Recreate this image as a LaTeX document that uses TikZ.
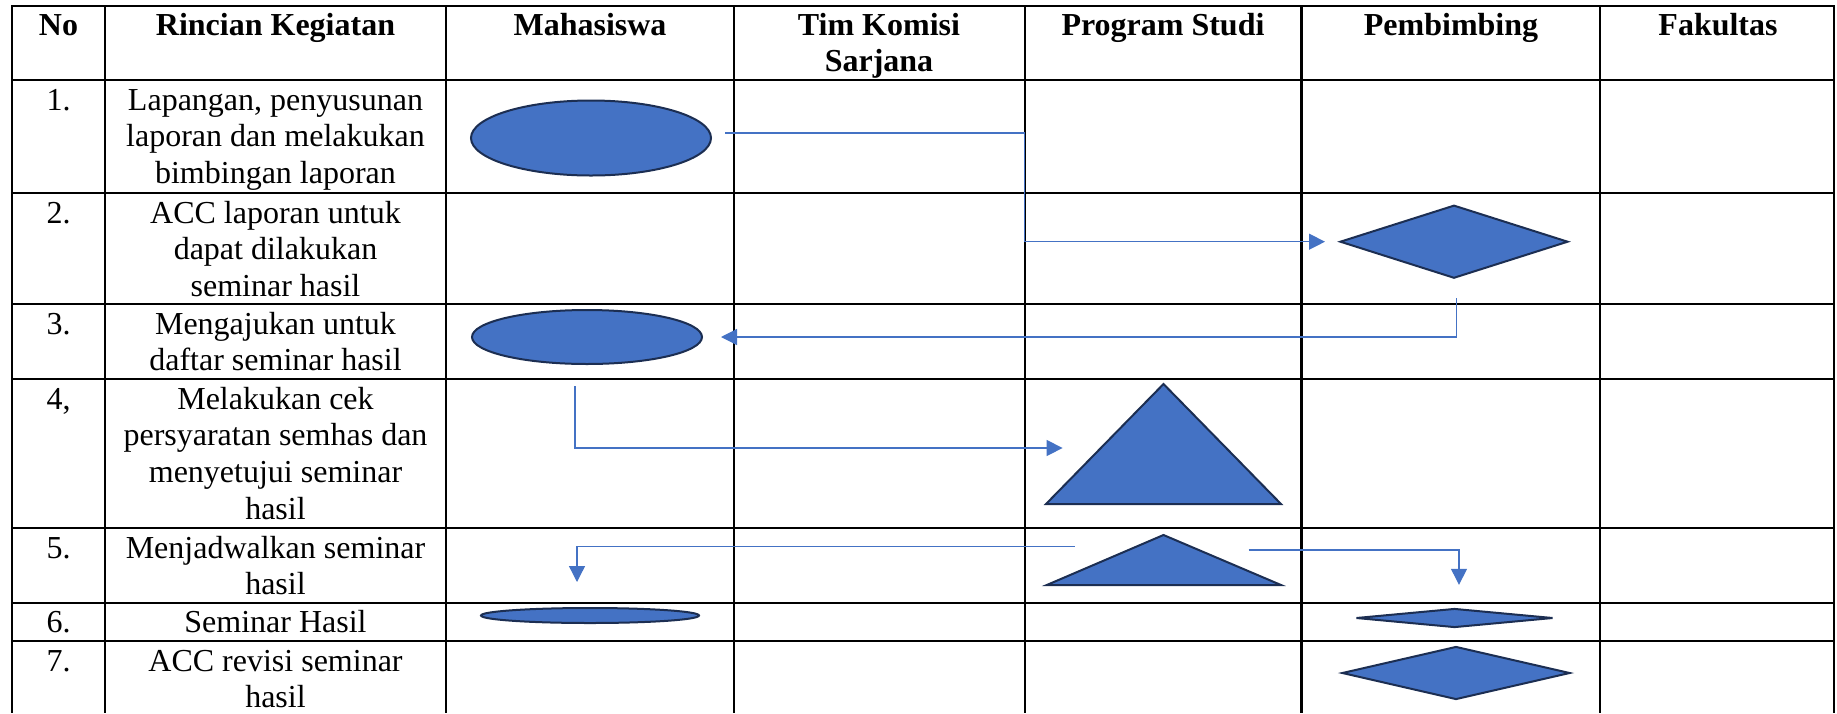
\documentclass[tikz,border=0pt]{standalone}
\usepackage{fontspec}
\setmainfont{Liberation Serif}
\usetikzlibrary{shapes.geometric,arrows.meta}
\definecolor{boxblue}{HTML}{4472C4}
\definecolor{edgeblue}{HTML}{1C2E52}
\tikzstyle{head_text}=[anchor=north,inner sep=0pt,align=center,font=\bfseries\fontsize{32}{36.8}\selectfont]
\tikzstyle{row_text}=[anchor=north,inner sep=0pt,align=center,font=\fontsize{32}{36.8}\selectfont]
\tikzstyle{oval_fill}=[ellipse,draw=edgeblue,fill=boxblue,line width=2pt,inner sep=0pt]
\tikzstyle{dia_fill}=[diamond,draw=edgeblue,fill=boxblue,line width=2pt,inner sep=0pt]
\tikzstyle{tri_fill}=[draw=edgeblue,fill=boxblue,line width=2pt,line join=miter]
\tikzstyle{flow_line}=[draw=boxblue,line width=1.3pt,-{Triangle[length=16pt,width=16pt]}]

\begin{document}
\begin{tikzpicture}[x=1pt,y=-1pt]
\useasboundingbox (0,0) rectangle (1837,713);
\foreach \x in {12,105,446,733.6,1024.7,1301.5,1600,1834} \draw[line width=2.2pt] (\x,6) -- (\x,713);
\foreach \y in {6,80,193,304,379,528,603,641} \draw[line width=2.2pt,line cap=rect] (12,\y) -- (1834,\y);
\coordinate (col4) at (1024.7,0);
% header
\node (h_no) at (58.5,9.2)[head_text] {\strut No};
\node (h_act) at (275.5,9.2)[head_text] {\strut Rincian Kegiatan};
\node (h_mhs) at (590,9.2)[head_text] {\strut Mahasiswa};
\node (h_tks) at (879,9.2)[head_text] {\strut Tim Komisi\\Sarjana};
\node (h_ps) at (1163,9.2)[head_text] {\strut Program Studi};
\node (h_pmb) at (1451,9.2)[head_text] {\strut Pembimbing};
\node (h_fak) at (1718,9.2)[head_text] {\strut Fakultas};
% rows
\node (no1) at (58.5,84.2)[row_text] {\strut 1.};
\node (act1) at (275.5,84.2)[row_text] {\strut Lapangan, penyusunan\\laporan dan melakukan\\bimbingan laporan};
\node (no2) at (58.5,197.2)[row_text] {\strut 2.};
\node (act2) at (275.5,197.2)[row_text] {\strut ACC laporan untuk\\dapat dilakukan\\seminar hasil};
\node (no3) at (58.5,308.2)[row_text] {\strut 3.};
\node (act3) at (275.5,308.2)[row_text] {\strut Mengajukan untuk\\daftar seminar hasil};
\node (no4) at (58.5,383.2)[row_text] {\strut 4,};
\node (act4) at (275.5,383.2)[row_text] {\strut Melakukan cek\\persyaratan semhas dan\\menyetujui seminar\\hasil};
\node (no5) at (58.5,532.2)[row_text] {\strut 5.};
\node (act5) at (275.5,532.2)[row_text] {\strut Menjadwalkan seminar\\hasil};
\node (no6) at (58.5,606.2)[row_text] {\strut 6.};
\node (act6) at (275.5,606.2)[row_text] {\strut Seminar Hasil};
\node (no7) at (58.5,645.2)[row_text] {\strut 7.};
\node (act7) at (275.5,645.2)[row_text] {\strut ACC revisi seminar\\hasil};
% symbols
\node (mhs1) at (591,138)[oval_fill,minimum width=240pt,minimum height=75pt] {};
\node (mhs3) at (587,337)[oval_fill,minimum width=230pt,minimum height=54pt] {};
\node (mhs6) at (590,615.5)[oval_fill,minimum width=218pt,minimum height=15pt] {};
\node (pmb2) at (1454,241.7)[dia_fill,minimum width=228pt,minimum height=73pt] {};
\node (pmb6) at (1454.5,618)[dia_fill,minimum width=197pt,minimum height=19pt] {};
\node (pmb7) at (1456,673)[dia_fill,minimum width=228pt,minimum height=53pt] {};
\coordinate (ps4top) at (1163.5,384);\coordinate (ps4l) at (1046,504);\coordinate (ps4r) at (1281,504);
\coordinate (ps5top) at (1163.5,535);\coordinate (ps5l) at (1046.8,585);\coordinate (ps5r) at (1281,585);
\draw[tri_fill] (ps4top) -- (ps4r) -- (ps4l) -- cycle;
\draw[tri_fill] (ps5top) -- (ps5r) -- (ps5l) -- cycle;
% flow
\coordinate (a1s) at ([yshift=5pt]mhs1.east);
\coordinate (ps4w) at (1101,448);
\coordinate (a4s) at (1074.5,546.7);
\coordinate (a5s) at (1248.7,550);
\draw[flow_line,shorten <=13pt,shorten >=14pt] (a1s) -- (a1s -| col4) |- (pmb2.west);
\draw[flow_line,shorten <=19pt,shorten >=18pt] ([xshift=2.6pt]pmb2.south) |- (mhs3.east);
\draw[flow_line,shorten <=21pt,shorten >=38.4pt] ([xshift=-12pt]mhs3.south) |- (ps4w);
\draw[flow_line,shorten >=25pt] (a4s) -| ([xshift=-13pt]mhs6.north);
\draw[flow_line,shorten >=22.7pt] (a5s) -| ([xshift=4.5pt]pmb6.north);
\end{tikzpicture}
\end{document}
